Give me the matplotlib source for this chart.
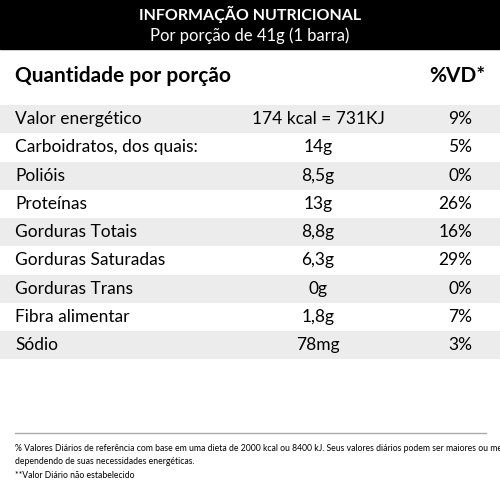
import matplotlib.pyplot as plt
from matplotlib.patches import Rectangle

plt.rcParams['font.family'] = ['Lato', 'DejaVu Sans']

title = "INFORMAÇÃO NUTRICIONAL"
subtitle = "Por porção de 41g (1 barra)"
nutrients = ["Valor energético", "Carboidratos, dos quais:", "Polióis", "Proteínas",
             "Gorduras Totais", "Gorduras Saturadas", "Gorduras Trans",
             "Fibra alimentar", "Sódio"]
amounts = ["174 kcal = 731KJ", "14g", "8,5g", "13g", "8,8g", "6,3g", "0g", "1,8g", "78mg"]
vd = ["9%", "5%", "0%", "26%", "16%", "29%", "0%", "7%", "3%"]
footnotes = ["% Valores Diários de referência com base em uma dieta de 2000 kcal ou 8400 kJ. "
             "Seus valores diários podem ser maiores ou menores",
             "dependendo de suas necessidades energéticas.",
             "**Valor Diário não estabelecido"]

W, H = 500, 486
fig = plt.figure(figsize=(W / 100, H / 100), dpi=100)
ax = fig.add_axes([0, 0, 1, 1])
ax.set_xlim(0, W)
ax.set_ylim(H, 0)
ax.axis('off')

# black header
ax.add_patch(Rectangle((0, 0), W, 49, color='black'))
ax.text(250, 14, title, color='white', fontsize=11.5, fontweight='bold', ha='center', va='center')
ax.text(250, 36, subtitle, color='white', fontsize=12, ha='center', va='center')

ax.text(15, 76, "Quantidade por porção", fontsize=15, fontweight='bold', ha='left', va='center')
ax.text(485, 76, "%VD*", fontsize=15, fontweight='bold', ha='right', va='center')

row_h = 28.25
top = 105
for i, (n, a, v) in enumerate(zip(nutrients, amounts, vd)):
    y0 = top + i * row_h
    if i % 2 == 0:
        ax.add_patch(Rectangle((0, y0), W, row_h, color='#ececec', lw=0))
    yc = y0 + row_h / 2
    ax.text(15, yc, n, fontsize=12.5, ha='left', va='center')
    ax.text(318, yc, a, fontsize=12.5, ha='center', va='center')
    ax.text(472, yc, v, fontsize=12.5, ha='right', va='center')

ax.plot([15, 486], [433, 433], color='#aaaaaa', lw=1)
for k, line in enumerate(footnotes):
    ax.text(15, 448 + k * 13.5, line, fontsize=6.2, ha='left', va='center')

fig.savefig('out.png', dpi=100)
